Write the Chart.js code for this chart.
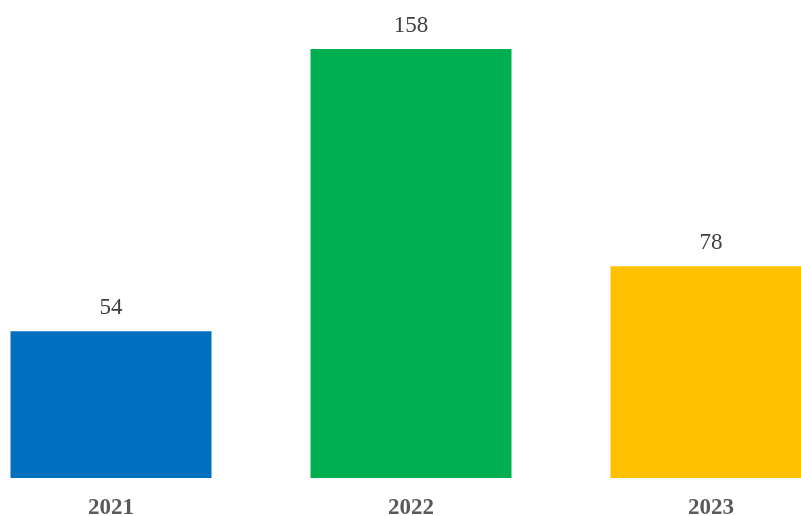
<!DOCTYPE html>
<html>
<head>
<meta charset="utf-8">
<script src="https://cdn.jsdelivr.net/npm/chart.js@4"></script>
<style>
  html, body { margin: 0; padding: 0; background: #fff; overflow: hidden; }
  #wrap { position: relative; width: 801px; height: 516px; overflow: hidden; }
  #wrap canvas { position: absolute; left: -39px; top: 0; }
</style>
</head>
<body>
<div id="wrap"><canvas id="c" width="900" height="516"></canvas></div>
<script>
const years  = ['2021', '2022', '2023'];
const counts = [54, 158, 78];
const colors = ['#0070c0', '#00b050', '#ffc000'];

// Werte über den Balken schreiben
const valueLabels = {
  id: 'valueLabels',
  afterDatasetsDraw(chart) {
    const ctx = chart.ctx;
    const meta = chart.getDatasetMeta(0);
    ctx.save();
    ctx.font = '23px "Liberation Serif", "Times New Roman", serif';
    ctx.fillStyle = '#404040';
    ctx.textAlign = 'center';
    ctx.textBaseline = 'alphabetic';
    meta.data.forEach((bar, i) => {
      ctx.fillText(String(counts[i]), bar.x, bar.y - 17);
    });
    ctx.restore();
  },
};

new Chart(document.getElementById('c'), {
  type: 'bar',
  data: {
    labels: years,
    datasets: [{
      data: counts,
      backgroundColor: colors,
      borderWidth: 0,
      categoryPercentage: 1,
      barPercentage: 0.67,
    }],
  },
  options: {
    responsive: false,
    animation: false,
    layout: { padding: 0 },
    plugins: { legend: { display: false }, tooltip: { enabled: false } },
    scales: {
      x: {
        afterFit: scale => { scale.height = 38; },
        grid: { display: false, drawTicks: false },
        border: { display: false },
        ticks: {
          padding: 16,
          color: '#595959',
          font: { family: '"Liberation Serif", "Times New Roman", serif', size: 23, weight: 'bold' },
        },
      },
      y: { display: false, min: 0, max: 176 },
    },
  },
  plugins: [valueLabels],
});
</script>
</body>
</html>
